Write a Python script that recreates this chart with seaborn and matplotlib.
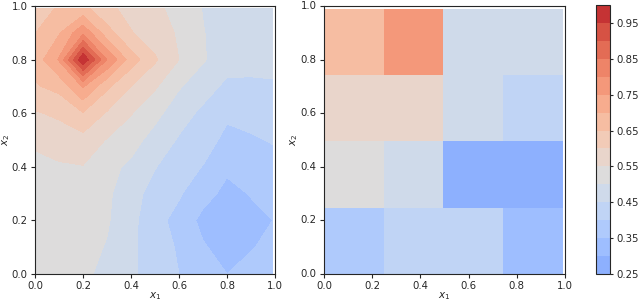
import numpy as np
import pandas as pd
import matplotlib
matplotlib.use("Agg")
import matplotlib.pyplot as plt
import seaborn as sns

# grid of the left panel (last point sits just short of 1.0, like the original)
x_grid = [0.0, 0.1, 0.2, 0.3, 0.4, 0.5, 0.6, 0.7, 0.8, 0.9, 0.99]
y_grid = [0.0, 0.1, 0.2, 0.3, 0.4, 0.5, 0.6, 0.7, 0.8, 0.9, 0.99]

# values, one row per x2 (bottom to top)
z_y00 = [0.520, 0.515, 0.510, 0.486, 0.458, 0.430, 0.400, 0.375, 0.350, 0.360, 0.368]
z_y01 = [0.523, 0.520, 0.515, 0.497, 0.460, 0.420, 0.395, 0.355, 0.330, 0.348, 0.358]
z_y02 = [0.527, 0.527, 0.525, 0.505, 0.465, 0.415, 0.385, 0.335, 0.310, 0.335, 0.350]
z_y03 = [0.531, 0.533, 0.535, 0.510, 0.465, 0.435, 0.405, 0.370, 0.335, 0.353, 0.365]
z_y04 = [0.535, 0.545, 0.548, 0.515, 0.490, 0.452, 0.425, 0.398, 0.360, 0.375, 0.385]
z_y05 = [0.560, 0.570, 0.582, 0.547, 0.520, 0.480, 0.445, 0.425, 0.385, 0.395, 0.403]
z_y06 = [0.595, 0.610, 0.647, 0.595, 0.553, 0.515, 0.470, 0.440, 0.410, 0.415, 0.420]
z_y07 = [0.645, 0.665, 0.755, 0.660, 0.600, 0.556, 0.505, 0.470, 0.440, 0.440, 0.445]
z_y08 = [0.670, 0.755, 0.995, 0.800, 0.676, 0.607, 0.550, 0.505, 0.470, 0.468, 0.463]
z_y09 = [0.648, 0.695, 0.790, 0.670, 0.603, 0.570, 0.545, 0.502, 0.478, 0.472, 0.468]
z_y10 = [0.630, 0.655, 0.665, 0.613, 0.583, 0.561, 0.533, 0.498, 0.480, 0.475, 0.470]

# right panel: 4x4 piecewise constant cells, rows bottom to top
cells_r0 = [0.375, 0.425, 0.425, 0.325]
cells_r1 = [0.525, 0.475, 0.275, 0.275]
cells_r2 = [0.575, 0.575, 0.475, 0.425]
cells_r3 = [0.675, 0.775, 0.475, 0.475]

levels = [0.25, 0.30, 0.35, 0.40, 0.45, 0.50, 0.55, 0.60, 0.65, 0.70,
          0.75, 0.80, 0.85, 0.90, 0.95, 1.00]
cbar_ticks = [0.25, 0.35, 0.45, 0.55, 0.65, 0.75, 0.85, 0.95]
tick_vals = [0.0, 0.2, 0.4, 0.6, 0.8, 1.0]
tick_labels = ["0.0", "0.2", "0.4", "0.6", "0.8", "1.0"]

sns.set_style("ticks")
plt.rcParams["font.family"] = ["DejaVu Sans"]
plt.rcParams["xtick.labelsize"] = 7.3
plt.rcParams["ytick.labelsize"] = 7.3
plt.rcParams["xtick.major.size"] = 2.8
plt.rcParams["ytick.major.size"] = 2.8
plt.rcParams["xtick.major.pad"] = 2.5
plt.rcParams["ytick.major.pad"] = 2.5
plt.rcParams["axes.linewidth"] = 0.8

cmap = sns.color_palette("coolwarm", as_cmap=True)
vmin, vmax = 0.025, 1.025

fig = plt.figure(figsize=(6.4, 3.02), dpi=100)
ax1 = fig.add_axes([35 / 640, 28 / 302, 240 / 640, 268 / 302])
ax2 = fig.add_axes([324 / 640, 28 / 302, 241 / 640, 268 / 302])
cax = fig.add_axes([596 / 640, 28 / 302, 14 / 640, 269 / 302])

# -------------------------------
# Left: filled contours
# -------------------------------
Z = np.array([z_y00, z_y01, z_y02, z_y03, z_y04, z_y05,
              z_y06, z_y07, z_y08, z_y09, z_y10])
cs = ax1.contourf(x_grid, y_grid, Z, levels=levels, cmap=cmap, vmin=vmin, vmax=vmax)
ax1.set_xlim(0, 1)
ax1.set_ylim(0, 1)
ax1.set_xticks(tick_vals)
ax1.set_xticklabels(tick_labels)
ax1.set_yticks(tick_vals)
ax1.set_yticklabels(tick_labels)
ax1.set_xlabel("$x_1$", fontsize=7.5, labelpad=-1)
ax1.set_ylabel("$x_2$", fontsize=7.5, labelpad=-0.5)

# -------------------------------
# Right: piecewise constant cells
# -------------------------------
cells = pd.DataFrame([cells_r0, cells_r1, cells_r2, cells_r3])
sns.heatmap(cells, cmap=cmap, vmin=vmin, vmax=vmax, cbar=False, ax=ax2)
L = 4 / 0.99
ax2.set_xlim(0, L)
ax2.set_ylim(0, L)
ax2.set_xticks([v * L for v in tick_vals])
ax2.set_xticklabels(tick_labels, rotation=0)
ax2.set_yticks([v * L for v in tick_vals])
ax2.set_yticklabels(tick_labels, rotation=0)
ax2.set_xlabel("$x_1$", fontsize=7.5, labelpad=-1)
ax2.set_ylabel("$x_2$", fontsize=7.5, labelpad=0.5)
for s in ax2.spines.values():
    s.set_visible(True)
    s.set_linewidth(0.8)

# -------------------------------
# Colorbar
# -------------------------------
cb = fig.colorbar(cs, cax=cax, ticks=cbar_ticks)
cb.ax.tick_params(labelsize=7.3, length=2.5, pad=1.8)
cb.outline.set_linewidth(0.8)

fig.savefig("out.png", dpi=100)
